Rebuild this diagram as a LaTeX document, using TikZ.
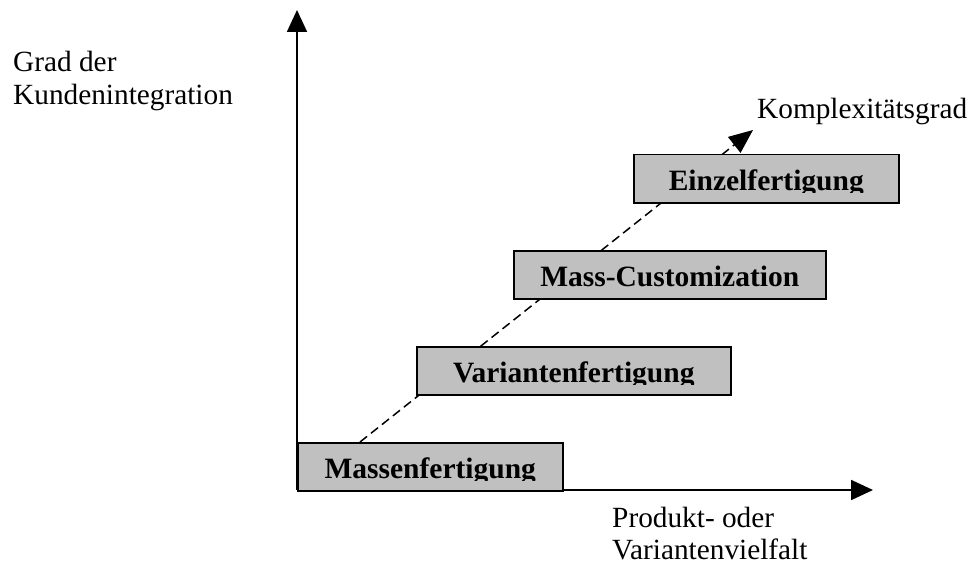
\documentclass[tikz,border=0pt]{standalone}
\usepackage{fontspec}
\setmainfont{Liberation Serif}
\usetikzlibrary{arrows.meta}
\definecolor{stagegray}{RGB}{192,192,192}
\begin{document}
\begin{tikzpicture}[x=1pt,y=-1pt,
  axis/.style={line width=1.8pt,-{Triangle[length=22pt,width=20pt]}},
  trend/.style={line width=1.5pt,dash pattern=on 9pt off 5pt,-{Triangle[length=24pt,width=20pt]}},
  stage/.style={draw=black,line width=1.5pt,fill=stagegray,rectangle,inner sep=0pt,
    minimum height=48pt,anchor=north west},
  stagelabel/.style={font=\fontsize{29.5}{33}\selectfont\bfseries,inner sep=0pt,anchor=base},
  caption/.style={font=\fontsize{29.3}{33}\selectfont,inner sep=0pt,anchor=base west}]
  \useasboundingbox (0,0) rectangle (976,564);

  % axes
  \coordinate (origin) at (297,490);
  \coordinate (ytip) at (297,10);
  \coordinate (xtip) at (873,490);
  \draw[axis] (origin) -- (ytip);
  \draw[axis] (origin) -- (xtip);

  % complexity trend, running behind the stage boxes
  \coordinate (trendstart) at (360,442);
  \coordinate (trendtip) at (753,130);
  \draw[trend] (trendstart) -- (trendtip);

  % stage boxes
  \node[stage,minimum width=265pt] (mass)   at (297,442) {};
  \node[stage,minimum width=314pt] (var)    at (416,346) {};
  \node[stage,minimum width=312pt] (custom) at (513,250) {};
  \node[stage,minimum width=265pt] (single) at (633,154) {};

  % stage labels, cut off just below their baseline
  \foreach \b/\t in {mass/Massenfertigung,var/Variantenfertigung,
                     custom/Mass-Customization,single/Einzelfertigung}{
    \begin{scope}
      \clip (\b.north west) rectangle ([yshift=11.5pt]\b.south east);
      \node[stagelabel] (\b-label) at ([yshift=-36.5pt]\b.north) {\t};
    \end{scope}
  }

  % axis and trend captions
  \node[caption] (ylab1) at (13,72)  {Grad der};
  \node[caption] (ylab2) at (13,105) {Kundenintegration};
  \node[caption] (trendlab) at (757,119) {Komplexitätsgrad};
  \node[caption] (xlab1) at (612,527) {Produkt- oder};
  \node[caption] (xlab2) at (612,559) {Variantenvielfalt};
\end{tikzpicture}
\end{document}
